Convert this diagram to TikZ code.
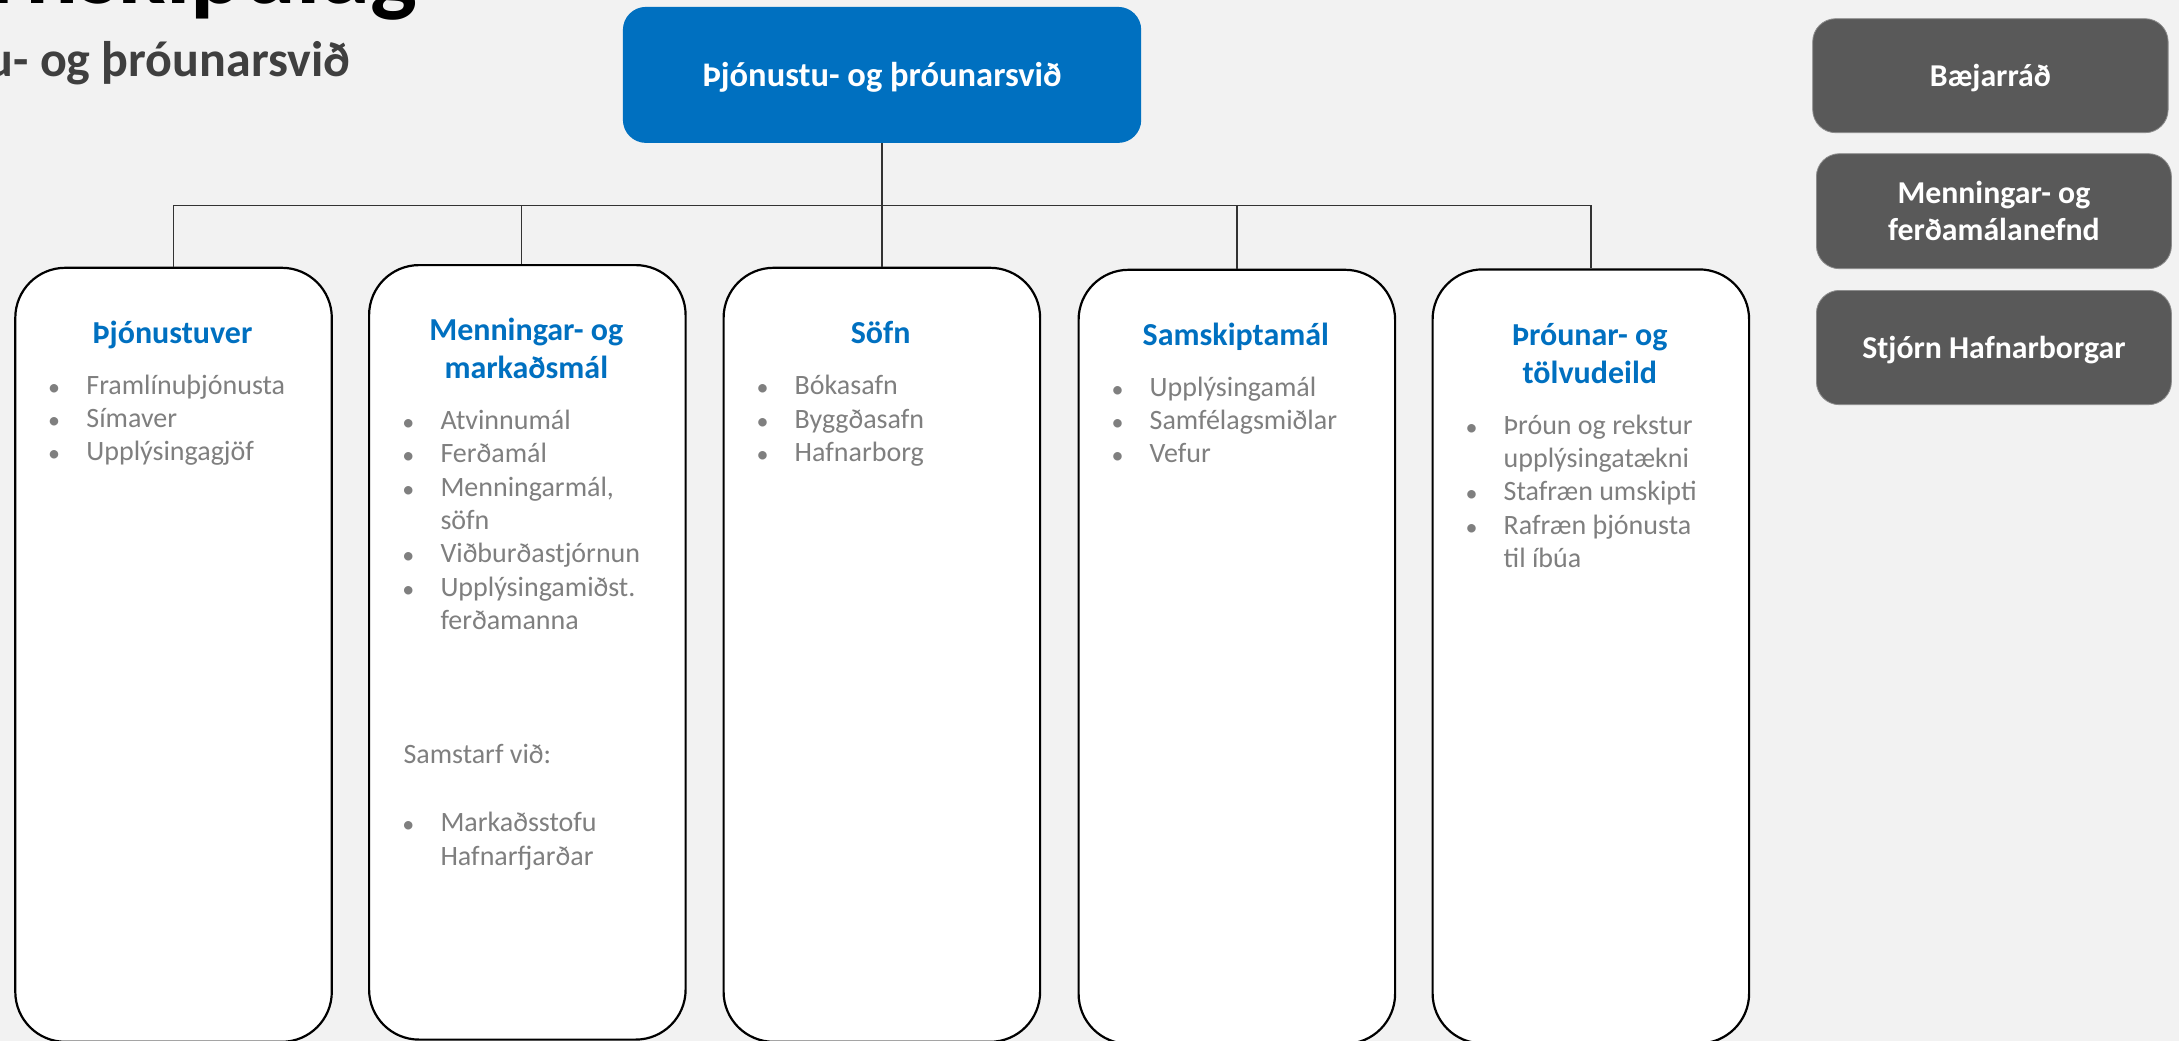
\documentclass[tikz,border=0pt]{standalone}
\usepackage{fontspec}
\setmainfont{Carlito}
\definecolor{bgc}{HTML}{F2F2F2}
\definecolor{blueC}{HTML}{0070C0}
\definecolor{grayC}{HTML}{595959}
\definecolor{itemC}{HTML}{7F7F7F}
\definecolor{subC}{HTML}{3F3F3F}
\newcommand\orgitem[4]{\node[dot] (#1b) at ({#2+40},#3) {•}; \node[itm] (#1) at ({#2+72},#3) {#4};}
\newcommand\orgcont[4]{\node[itm] (#1) at ({#2+72},#3) {#4};}
\begin{document}
\begin{tikzpicture}[x=1pt,y=-1pt,
  wbox/.style={draw=black, line width=2.2pt, fill=white, rounded corners=50pt, inner sep=0pt,
    minimum width=316.5pt, minimum height=774pt, anchor=north west},
  gbox/.style={draw=black!45, line width=0.8pt, fill=grayC, rounded corners=23pt, text=white,
    font=\fontsize{31.8}{36.7}\selectfont\bfseries, align=center, inner sep=0pt,
    minimum width=355pt, minimum height=114.5pt, anchor=north west},
  topbox/.style={fill=blueC, rounded corners=23pt, text=white,
    font=\fontsize{34.5}{41}\selectfont\bfseries, inner sep=0pt,
    minimum width=518.3pt, minimum height=136pt, anchor=north west, text height=24pt, text depth=0pt},
  conn/.style={draw=black!80, line width=1.3pt},
  ttl/.style={text=blueC, font=\fontsize{32}{38.4}\selectfont\bfseries, anchor=base, inner sep=0pt},
  itm/.style={text=itemC, font=\fontsize{28}{33.4}\selectfont, anchor=base west, inner sep=0pt},
  dot/.style={text=itemC, font=\fontsize{24}{33.4}\selectfont, anchor=base, inner sep=0pt, yshift=-1pt}]
\useasboundingbox (0,0) rectangle (2179,1041);
\clip (0,0) rectangle (2179,1041);
\fill[bgc] (0,0) rectangle (2179,1041);

% heading (cut off at the page edge, as in the reference)
\node[anchor=base east, inner sep=0pt, font=\fontsize{99}{110}\selectfont\bfseries] (title) at (417,4) {Stjórnskipulag};
\node[anchor=base east, inner sep=0pt, text=subC, font=\fontsize{50}{60}\selectfont\bfseries] (subtitle) at (350.5,77) {Þjónustu- og þróunarsvið};

% top box
\node[topbox] (top) at (622.7,6.7) {Þjónustu- og þróunarsvið};

% right-hand boxes
\node[gbox, text height=22.4pt, text depth=0pt, minimum width=355.4pt, minimum height=114pt] (bae) at (1812.3,18.3) {Bæjarráð};
\node[gbox, minimum height=115pt] (mfn) at (1816,153.3) {Menningar- og\\ferðamálanefnd};
\node[gbox, text height=22.6pt, text depth=0pt, minimum height=114.3pt] (sth) at (1816,290) {Stjórn Hafnarborgar};

% department boxes
\node[wbox] (b1) at (14.2,266.7) {};
\node[wbox, minimum height=774.5pt] (b2) at (368,264) {};
\node[wbox] (b3) at (722.5,266.7) {};
\node[wbox] (b4) at (1077.5,268.7) {};
\node[wbox] (b5) at (1431.5,268.3) {};

% connectors
\coordinate (hub) at (882,205.7);
\draw[conn] (top.south) -- (top.south |- b3.north);
\draw[conn] (b1.north) -- (b1.north |- hub) -- (b5.north |- hub) -- (b5.north);
\draw[conn] ([xshift=-6pt]b2.north) -- ([xshift=-6pt]b2.north |- hub);
\draw[conn] (b4.north) -- (b4.north |- hub);

% box 1
\node[ttl] (t1) at (172.5,343.3) {Þjónustuver};
\orgitem{a1}{14.2}{394}{Framlínuþjónusta}
\orgitem{a2}{14.2}{427.3}{Símaver}
\orgitem{a3}{14.2}{460.7}{Upplýsingagjöf}

% box 2
\node[ttl] (t2a) at (526.3,340) {Menningar- og};
\node[ttl] (t2b) at (526.3,378.4) {markaðsmál};
\orgitem{m1}{368.3}{429.3}{Atvinnumál}
\orgitem{m2}{368.3}{462.6}{Ferðamál}
\orgitem{m3}{368.3}{496}{Menningarmál,}
\orgcont{m3c}{368.3}{529.3}{söfn}
\orgitem{m4}{368.3}{562.6}{Viðburðastjórnun}
\orgitem{m5}{368.3}{596}{Upplýsingamiðst.}
\orgcont{m5c}{368.3}{629.3}{ferðamanna}
\node[itm] (sv) at (403.3,763.3) {Samstarf við:};
\orgitem{m6}{368.3}{831.7}{Markaðsstofu}
\orgcont{m6c}{368.3}{865}{Hafnarfjarðar}

% box 3
\node[ttl] (t3) at (880.6,343.3) {Söfn};
\orgitem{s1}{722.5}{394.5}{Bókasafn}
\orgitem{s2}{722.5}{428}{Byggðasafn}
\orgitem{s3}{722.5}{461.5}{Hafnarborg}

% box 4
\node[ttl] (t4) at (1235.8,345) {Samskiptamál};
\orgitem{k1}{1077.5}{396}{Upplýsingamál}
\orgitem{k2}{1077.5}{429}{Samfélagsmiðlar}
\orgitem{k3}{1077.5}{462}{Vefur}

% box 5
\node[ttl] (t5a) at (1589.8,345) {Þróunar- og};
\node[ttl] (t5b) at (1589.8,383.5) {tölvudeild};
\orgitem{p1}{1431.5}{434}{Þróun og rekstur}
\orgcont{p1c}{1431.5}{467.3}{upplýsingatækni}
\orgitem{p2}{1431.5}{500.7}{Stafræn umskipti}
\orgitem{p3}{1431.5}{534}{Rafræn þjónusta}
\orgcont{p3c}{1431.5}{567.3}{til íbúa}
\end{tikzpicture}
\end{document}
